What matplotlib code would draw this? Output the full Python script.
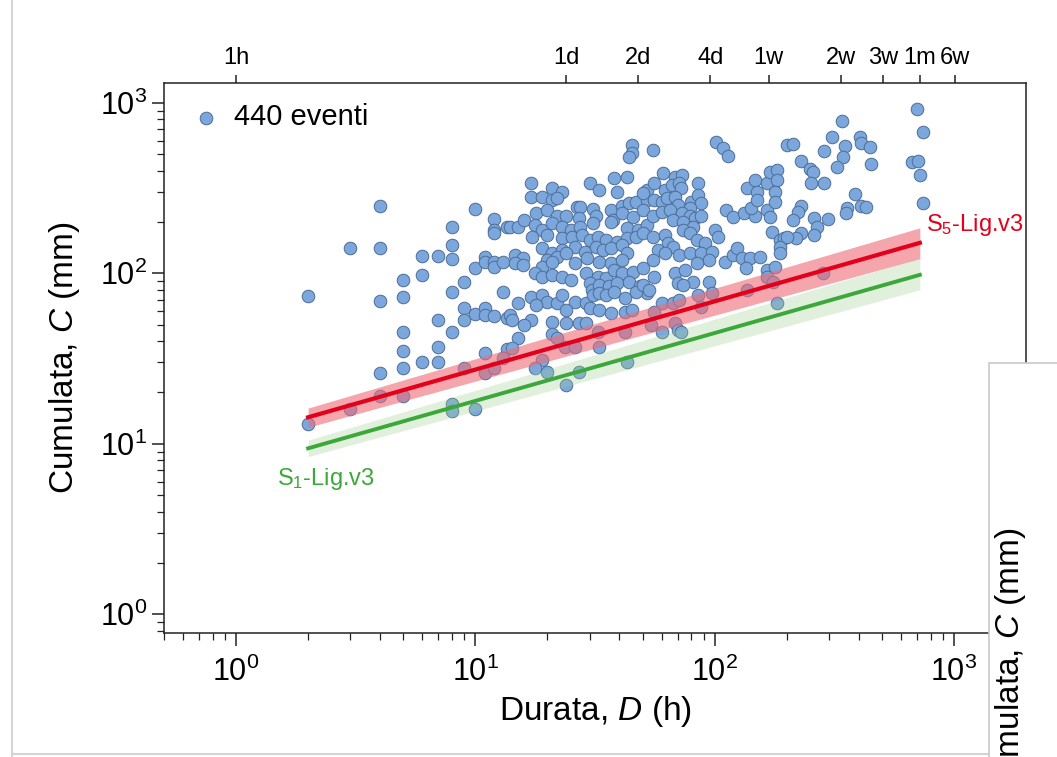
import matplotlib.pyplot as plt
from matplotlib.patches import Rectangle
from matplotlib.lines import Line2D
from matplotlib.ticker import NullLocator

plt.rcParams['font.family'] = ['Liberation Sans', 'DejaVu Sans']
plt.rcParams['mathtext.fontset'] = 'custom'
plt.rcParams['mathtext.rm'] = 'Liberation Sans'
plt.rcParams['mathtext.it'] = 'Liberation Sans:italic'
plt.rcParams['mathtext.bf'] = 'Liberation Sans:bold'

# eventi (durata h, cumulata mm)
eventi_brevi = [
    (2, 74), (2, 13), (3, 140), (3, 16),
    (4, 250), (4, 140), (4, 69), (4, 26), (4, 19),
    (5, 91), (5, 73), (5, 45), (5, 35), (5, 28), (5, 19),
    (6, 127), (6, 98), (6, 30), (7, 127), (7, 53), (7, 37), (7, 30),
    (8, 187), (8, 146), (8, 121), (8, 78), (8, 45), (8, 17), (8, 15.5),
    (9, 89), (9, 63), (9, 53), (9, 28), (10, 240), (10, 108), (10, 58), (10, 16),
    (11, 125), (11, 117), (11, 63), (11, 57), (11, 34), (11, 26),
    (12, 208), (12, 180), (12, 172), (12, 117), (12, 109), (12, 56), (12, 28),
    (13.6, 187), (13.6, 55), (13.6, 36),
]
eventi_medi = [
    (45, 570), (45, 510), (44, 480),
    (17, 340), (21, 317), (23, 300), (30, 340), (33, 309), (39, 300), (38, 363), (43, 368), (51, 300),
    (17, 281), (19, 281), (21, 270), (22, 277),
    (26.5, 245), (27.3, 245), (31, 240), (37, 236), (41, 250), (44, 258), (47, 262), (52, 270),
    (18, 226), (20, 236), (22, 217), (24, 217), (27, 211), (32, 217), (37.5, 206), (41, 226), (45.5, 214), (50, 236),
    (14, 187), (15, 187), (16, 206), (17.7, 192), (19, 180), (21, 198), (23, 187), (25, 180), (27.3, 187),
    (31, 198), (37, 200), (43, 185), (48, 180), (52, 192),
    (17.2, 164), (20, 168), (23, 161), (25.3, 164), (28, 168), (30, 157), (32.5, 164), (35, 157), (39, 153),
    (43, 161), (47, 164), (50, 173),
    (19, 141), (21, 132), (23, 137), (26, 143), (28.7, 134), (32, 143), (34, 137), (37, 141), (41, 147), (43, 132),
    (14.6, 128), (15.8, 123), (13, 117), (20, 120), (22, 125), (24, 132), (26, 115), (29.4, 123), (33, 117),
    (37, 115), (41, 120), (14.6, 115), (15.8, 112), (19, 109), (21, 117),
    (17.7, 100), (19, 95), (21, 98), (23, 95), (25, 91), (29, 100), (32.5, 95), (35, 94), (38, 105), (41, 100),
    (45.5, 102), (50, 107),
    (13, 78), (30, 88), (30.6, 80), (33, 85), (36, 84), (39, 88), (44, 89), (48.6, 84), (52, 77),
    (17, 73), (19, 75), (20, 68), (22, 67), (23, 75), (26, 68), (29, 67), (31, 75), (33, 77), (35, 75), (38, 78),
    (42, 72), (47, 78),
    (15, 67), (18, 65), (24, 61), (30, 63), (33, 61), (37, 58.5), (42, 59), (45, 61),
    (14, 57), (14.2, 53), (17, 53), (16, 50), (21, 52), (24, 51), (27, 51), (29, 51),
    (15, 42), (14.2, 36.5), (21, 44), (22, 42), (23.6, 37), (26, 37), (33, 37), (32.5, 45), (42, 45),
    (13, 32), (19, 31), (17.7, 28), (20, 26.4), (27, 26.4), (43, 30), (24, 22),
]
eventi_lunghi = [
    (55, 530), (101, 590), (108, 545), (114, 490),
    (61, 389), (68, 368), (73, 378), (52, 309), (56, 340), (62, 309), (66, 330), (71, 340), (72, 317), (85, 340), (50, 297),
    (56, 270), (60, 263), (63, 277), (68, 281), (70, 252), (80, 263), (85, 289), (88, 258), (79, 242),
    (55, 217), (60, 229), (65, 236), (73, 226), (79, 217), (83, 211), (88, 217), (67, 206), (74, 200), (81, 187),
    (112, 236), (119, 214), (133, 226), (147, 217), (142, 242), (137, 317), (147, 354), (150, 300), (150, 270),
    (165, 236), (166, 340), (170, 394), (182, 405), (182, 354), (178, 300), (178, 263), (170, 214), (200, 568),
    (55, 164), (62, 168), (64, 151), (67, 143), (74, 180), (79, 173), (84, 157), (91, 151), (100, 180), (103, 164),
    (173, 175), (187, 157), (195, 161), (187, 143), (187, 132),
    (58, 137), (62, 132), (71, 128), (79, 132), (88, 132), (97, 134), (95, 120), (110, 117), (119, 128), (124, 141),
    (130, 123), (140, 123), (154, 125), (135, 108),
    (55, 120), (84, 115), (68, 100), (75, 105), (81, 89), (70, 88), (74, 85), (95, 89), (56, 95), (50, 85), (53, 80),
    (165, 105), (178, 109), (166, 95), (175, 89), (137, 80),
    (60, 67), (67, 67), (71, 70), (85, 75), (97, 77), (88, 63.5), (56, 59),
    (54, 50), (60, 45), (68, 51), (70, 46.5), (72, 45), (183, 67),
    (700, 920), (740, 676), (670, 451), (706, 457), (718, 378), (740, 259),
    (340, 785), (310, 632), (285, 523), (212, 575), (350, 560), (405, 632), (410, 583), (445, 552), (345, 483),
    (325, 422), (450, 439), (230, 457), (250, 410), (257, 394), (252, 340), (287, 340),
    (386, 293), (358, 242), (355, 226), (410, 249), (430, 246),
    (230, 249), (222, 229), (212, 206), (260, 211), (298, 208),
    (267, 187), (230, 173), (260, 168), (218, 161), (200, 164), (283, 100),
]

# soglie (estremi a D = 2 h e D = 720 h) con banda di incertezza
soglia_d = [2, 720]
s5_c = [14.3, 151]
s5_lo = [12.5, 122]
s5_hi = [16.2, 185]
s1_c = [9.4, 98]
s1_lo = [8.4, 80]
s1_hi = [10.5, 123]

top_ticks = [1, 24, 48, 96, 168, 336, 504, 720, 1008]
top_labels = ['1h', '1d', '2d', '4d', '1w', '2w', '3w', '1m', '6w']

eventi = eventi_brevi + eventi_medi + eventi_lunghi
durata = [e[0] for e in eventi]
cumulata = [e[1] for e in eventi]

red = '#e2001a'
green = '#3ca83a'

fig = plt.figure(figsize=(10.57, 7.57), dpi=100)
ax = fig.add_axes([0.1552, 0.1638, 0.8155, 0.7266])

ax.scatter(durata, cumulata, s=82, c='#7ba7dc', edgecolors='#4d6d96', linewidths=0.7,
           zorder=2, label='440 eventi')

ax.fill_between(soglia_d, s1_lo, s1_hi, color='#9ed08e', alpha=0.3, lw=0, zorder=3)
ax.fill_between(soglia_d, s5_lo, s5_hi, color='#ed6b76', alpha=0.6, lw=0, zorder=3)
ax.plot(soglia_d, s1_c, color=green, lw=2.8, zorder=4)
ax.plot(soglia_d, s5_c, color=red, lw=3, zorder=4)

ax.text(763, 191, r'S$_5$-Lig.v3', color=red, fontsize=17, va='center', ha='left')
ax.text(1.48, 6.2, r'S$_1$-Lig.v3', color=green, fontsize=17, va='center', ha='left')

ax.set_xscale('log')
ax.set_yscale('log')
ax.set_xlim(0.5, 2000)
ax.set_ylim(0.775, 1310)

for s in ax.spines.values():
    s.set_linewidth(1.1)
    s.set_color('#222222')

ax.tick_params(which='major', direction='out', length=9, width=1.1, labelsize=22,
               top=False, right=False, color='#222222')
ax.tick_params(which='minor', direction='out', length=5, width=0.9,
               top=False, right=False, color='#222222')
ax.tick_params(axis='x', which='major', pad=8)
ax.tick_params(axis='y', which='major', pad=3)

ax.set_xlabel(r'Durata, $\it{D}$ (h)', fontsize=24)
ax.set_ylabel(r'Cumulata, $\it{C}$ (mm)', fontsize=24)
ax.xaxis.set_label_coords(0.5, -0.11)
ax.yaxis.set_label_coords(-0.095, 0.5)

sec = ax.secondary_xaxis('top')
sec.set_xticks(top_ticks, top_labels)
sec.xaxis.set_minor_locator(NullLocator())
sec.tick_params(which='major', direction='out', length=6, width=1.1, labelsize=17, pad=4,
                color='#222222')
sec.spines['top'].set_visible(False)

ax.legend(loc='upper left', frameon=False, fontsize=21, handletextpad=0.2,
          borderaxespad=0.3, handlelength=1.5, scatterpoints=1)

# cornice e pannello sovrapposto in basso a destra (tagliato dal bordo)
fig.add_artist(Line2D([12 / 1057, 12 / 1057], [0, 1], transform=fig.transFigure,
                      color='#d4d4d4', lw=1.5))
fig.add_artist(Line2D([12 / 1057, 1], [3 / 757, 3 / 757], transform=fig.transFigure,
                      color='#d4d4d4', lw=1.5))
fig.add_artist(Rectangle((989 / 1057, -0.01), 0.2, 394 / 757 + 0.01, transform=fig.transFigure,
                         facecolor='white', edgecolor='#c8c8c8', lw=1.2, zorder=10))
fig.text(1011 / 1057, 1 - 664 / 757, r'Cumulata, $\it{C}$ (mm)', rotation=90, fontsize=24,
         ha='center', va='center', zorder=11)

fig.savefig('out.png', dpi=100)
